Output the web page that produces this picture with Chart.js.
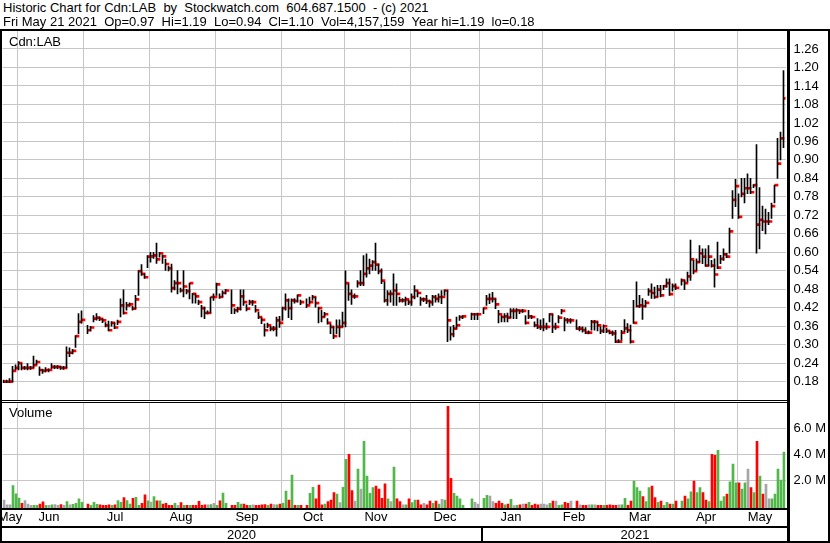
<!DOCTYPE html>
<html><head><meta charset="utf-8">
<script src="https://cdn.jsdelivr.net/npm/chart.js@4.4.1/dist/chart.umd.min.js"></script>
<style>
html,body{margin:0;padding:0;background:#fff;}
#wrap{position:relative;width:830px;height:543px;overflow:hidden;font-family:Arial,"Liberation Sans",sans-serif;background:#fff;}
.t{position:absolute;font-size:13px;color:#000;white-space:pre;line-height:14px;}
.ln{position:absolute;background:#000;}
canvas{position:absolute;left:0;}
</style></head><body>
<div id="wrap">
<canvas id="pc" width="830" height="369" style="top:31px"></canvas>
<canvas id="vc" width="830" height="140" style="top:403px"></canvas>
<div class="t" style="left:3px;top:1px">Historic Chart for Cdn:LAB  by  Stockwatch.com  604.687.1500  - (c) 2021</div>
<div class="t" style="left:3px;top:15px">Fri May 21 2021  Op=0.97  Hi=1.19  Lo=0.94  Cl=1.10  Vol=4,157,159  Year hi=1.19  lo=0.18</div>
<div class="t" style="left:9px;top:35px">Cdn:LAB</div>
<div class="t" style="left:9px;top:406px">Volume</div>
<div class="t" style="left:2px;width:479px;text-align:center;top:528px">2020</div>
<div class="t" style="left:483px;width:304px;text-align:center;top:528px">2021</div>
<div class="ln" style="left:0;top:29px;width:830px;height:2px"></div>
<div class="ln" style="left:0;top:29px;width:2px;height:514px"></div>
<div class="ln" style="left:828px;top:29px;width:2px;height:514px"></div>
<div class="ln" style="left:787px;top:29px;width:3px;height:514px"></div>
<div class="ln" style="left:0;top:400px;width:787px;height:1px"></div>
<div class="ln" style="left:0;top:402px;width:787px;height:1px"></div>
<div class="ln" style="left:0;top:508px;width:790px;height:2px"></div>
<div class="ln" style="left:0;top:526px;width:790px;height:2px"></div>
<div class="ln" style="left:0;top:541px;width:830px;height:2px"></div>
<div class="ln" style="left:481px;top:526px;width:2px;height:17px"></div>
</div>
<script>
// ---- categories: months and trading-day slots per month (May 2020 .. May 2021)
const monthNames = ['May','Jun','Jul','Aug','Sep','Oct','Nov','Dec','Jan','Feb','Mar','Apr','May'];
const monthSlots = [5,22,22,22,22,21,22,23,21,21,23,21,16];

// ---- daily closes (null = market holiday)
const closes = [
 .18,.18,.18,.215,.225,
 .24,.225,.225,.225,.225,.234,.244,.218,.215,.218,.218,.228,.228,.228,.225,.225,.274,.274,.28,.328,.374,.381,
 null,.347,.356,.385,.388,.384,.379,.363,.347,.371,.356,.374,.428,.403,.428,.431,.417,.447,.539,.53,.519,.586,
 .587,.59,.577,.597,.587,.562,.548,.484,.5,.5,.476,.489,.474,.5,.465,.457,.438,.419,.403,.403,.455,.455,
 .496,.455,.468,.476,null,.428,.412,.417,.457,.438,.417,.438,.438,.412,.39,.381,.347,.363,.352,.352,.379,.371,
 .419,.444,.419,.444,.442,.46,.438,null,.428,.438,.455,.435,.419,.39,.399,.371,.358,.328,.358,.358,.371,
 .5,.465,.457,.457,.5,.5,.53,.548,.557,.568,.56,.539,.508,.444,.465,.465,.476,.465,.444,.444,.447,.438,
 .455,.476,.468,.447,.447,.442,.438,.455,.449,.455,.455,.476,.379,.334,.352,.363,.39,.392,null,null,.399,.399,.399,
 null,.419,.449,.449,.449,.431,.399,.39,.392,.388,.41,.41,.412,.41,.41,.371,.392,.39,.363,.358,.358,
 .358,.358,.399,.358,.358,.388,.41,.381,.379,.379,null,.352,.352,.347,.339,.339,.374,.374,.363,.345,.36,
 .345,.339,.337,.31,.31,.339,.353,.347,.31,.371,.425,.428,.425,.436,.474,.468,.455,.479,.46,.49,.5,.464,.49,
 .485,null,.509,.5,.522,.577,.539,.568,.597,.586,.557,.586,.557,.528,.55,.579,.593,.586,.668,.77,.815,
 .715,.79,.808,.808,.795,.818,.69,.705,.7,.7,.7,.75,.818,.888,.97,1.1
];
// ---- daily highs
const highs = [
 .185,.185,.19,.23,.235,
 .245,.239,.23,.239,.23,.263,.25,.228,.22,.226,.222,.239,.232,.232,.23,.23,.293,.29,.285,.33,.401,.41,
 null,.363,.36,.395,.401,.39,.384,.372,.377,.375,.371,.38,.449,.478,.438,.436,.425,.46,.541,.56,.53,.589,
 .6,.6,.63,.6,.592,.578,.555,.562,.508,.541,.484,.541,.48,.5,.467,.465,.445,.428,.422,.41,.455,.465,
 .5,.465,.475,.48,null,.478,.417,.422,.478,.478,.43,.445,.444,.428,.406,.388,.368,.37,.36,.36,.39,.392,
 .422,.465,.449,.449,.45,.462,.445,null,.449,.455,.46,.455,.422,.412,.405,.385,.367,.358,.381,.381,.406,
 .54,.498,.478,.465,.508,.541,.589,.595,.578,.573,.63,.562,.546,.503,.476,.476,.53,.498,.455,.45,.455,.445,
 .465,.492,.475,.455,.452,.46,.445,.46,.46,.465,.476,.478,.476,.358,.363,.39,.395,.395,null,null,.403,.401,.403,
 null,.42,.46,.465,.47,.449,.412,.395,.401,.403,.417,.417,.417,.412,.415,.395,.412,.395,.374,.385,.381,
 .385,.37,.401,.399,.37,.395,.415,.388,.385,.385,null,.381,.36,.358,.356,.345,.379,.379,.374,.358,.365,
 .353,.345,.345,.347,.317,.347,.382,.369,.364,.444,.504,.46,.45,.444,.482,.498,.487,.493,.493,.493,.514,.514,.498,
 .498,null,.514,.509,.536,.64,.574,.579,.622,.611,.611,.622,.574,.579,.633,.59,.611,.597,.679,.8,.837,
 .79,.84,.84,.855,.84,.82,.95,.81,.75,.74,.73,.76,.818,.97,.99,1.19
];
// ---- daily lows
const lows = [
 .177,.177,.178,.18,.218,
 .218,.218,.22,.218,.22,.225,.235,.2,.207,.212,.212,.222,.222,.222,.22,.22,.225,.261,.27,.291,.336,.37,
 null,.336,.345,.374,.38,.378,.372,.358,.345,.36,.352,.365,.39,.399,.412,.425,.412,.417,.46,.525,.515,.55,
 .568,.58,.564,.584,.564,.541,.54,.471,.478,.465,.471,.455,.465,.449,.435,.435,.43,.39,.385,.4,.403,.444,
 .46,.45,.455,.465,null,.401,.401,.406,.412,.428,.41,.43,.428,.406,.385,.368,.328,.355,.345,.345,.328,.356,
 .379,.412,.388,.381,.435,.438,.43,null,.42,.433,.445,.422,.371,.374,.39,.367,.336,.32,.336,.325,.358,
 .358,.444,.431,.45,.487,.492,.492,.519,.53,.541,.541,.53,.498,.438,.428,.438,.428,.428,.438,.438,.428,.43,
 .428,.449,.455,.428,.44,.433,.422,.428,.438,.438,.433,.46,.31,.315,.325,.352,.379,.385,null,null,.381,.381,.381,
 null,.401,.428,.433,.438,.417,.371,.374,.374,.374,.388,.385,.385,.401,.405,.367,.385,.385,.358,.352,.349,
 .345,.35,.374,.339,.35,.371,.4,.345,.37,.37,null,.35,.345,.341,.336,.335,.347,.347,.345,.336,.339,
 .339,.335,.33,.307,.307,.315,.342,.339,.305,.369,.423,.421,.382,.423,.46,.45,.45,.455,.455,.479,.487,.46,.474,
 .479,null,.493,.479,.504,.509,.53,.541,.568,.563,.554,.557,.552,.487,.547,.563,.574,.583,.597,.71,.748,
 .71,.78,.76,.79,.79,.81,.597,.611,.67,.66,.69,.71,.76,.84,.9,.94
];
// ---- daily volume, millions of shares
const volumes = [
 .46,.08,.08,1.57,.93,
 .6,.2,.41,.15,.05,.05,.05,.15,.31,.05,.05,.08,.1,.05,.1,.05,.33,.08,.13,.2,.54,.28,
 null,.15,.05,.28,.13,.08,.05,.05,.08,.05,.08,.41,.28,.64,.41,.15,.59,.67,.05,.2,.85,.39,
 .3,.72,.39,.39,.15,.2,.05,.05,.2,.05,.26,.05,.05,.05,.05,.05,.36,.05,.08,.08,.1,.2,
 .05,.39,1.0,.2,null,.05,.05,.28,.15,.15,.05,.05,.08,.05,.05,.08,.1,.05,.15,.1,.08,.15,
 .2,1.15,.46,2.38,.05,.05,.05,null,.05,.97,1.44,.54,1.62,.08,.15,.33,.46,1.03,.92,.26,1.44,
 3.6,4.0,1.18,.38,2.85,1.3,5.0,2.3,.97,1.41,1.54,1.3,.59,1.7,.54,.33,3.0,.54,.33,.08,.08,.54,
 .26,.46,.46,.08,.2,.08,.38,.2,.38,.15,.51,.46,7.7,2.13,.97,.77,.54,.05,null,null,.54,.28,.15,
 null,.59,.82,.77,.33,.2,.38,.2,.08,.15,.51,.02,.05,.08,.15,.15,.28,.05,.15,.08,.15,
 .15,.08,.2,.38,.38,.05,.08,.28,.2,.38,null,.38,.08,.05,.05,.08,.08,.08,.05,.05,.05,
 .05,.08,.05,.05,.08,.08,.59,.05,.38,1.92,1.41,1.15,.72,.33,1.41,1.54,.64,.28,.38,.05,.28,.15,.15,
 .38,null,.38,.77,.54,1.1,1.92,1.03,1.41,1.03,.46,.33,4.0,3.92,4.3,.38,.72,.92,1.87,3.23,1.79,
 1.79,1.3,1.79,2.85,1.41,1.03,5.0,2.3,.92,1.67,.54,.54,.92,2.85,2.0,4.16
];
// ---- axis tick values
const priceTicks = [0.18,0.24,0.30,0.36,0.42,0.48,0.54,0.60,0.66,0.72,0.78,0.84,0.90,0.96,1.02,1.08,1.14,1.20,1.26];
const volumeTicks = [2,4,6];

const N = monthSlots.reduce((a,b)=>a+b,0);
[closes,highs,lows,volumes].forEach((a,i)=>{ if(a.length!==N) throw new Error('array '+i+' length '+a.length+' != '+N); });

const GRID = '#c6c6c6', GREEN = '#4fb848', RED = '#ff0000', GREYV = '#a6a6a6';
const FONT = 'Arial, "Liberation Sans", sans-serif';
Chart.defaults.font.family = FONT;
Chart.defaults.font.size = 13;
Chart.defaults.color = '#000';

const labels = [], monthStart = new Set(), monthLabelAt = {};
let k = 0;
monthNames.forEach((m,j)=>{
  if (k>0) monthStart.add(k);
  monthLabelAt[k + Math.floor((monthSlots[j]-1)/2)] = m;
  for (let d=0; d<monthSlots[j]; d++) labels.push(m + '#' + j + '-' + d);
  k += monthSlots[j];
});

const hlData = highs.map((h,i)=> h==null ? null : [lows[i], h]);
const closeData = closes.map(c=> c==null ? null : [c-0.0033, c+0.0033]);
let prev = null;
const volColors = closes.map(c=>{
  if (c==null) return GREYV;
  let col = GREYV;
  if (prev!=null) col = c > prev+0.0015 ? GREEN : (c < prev-0.0015 ? RED : GREYV);
  prev = c; return col;
});

const xCommon = (showLabels)=>({
  type:'category', offset:true,
  grid:{ offset:true, drawTicks:false, lineWidth:1, color: ctx => monthStart.has(ctx.index) ? GRID : 'rgba(0,0,0,0)' },
  border:{ display:false },
  ticks:{ display: showLabels, autoSkip:false, maxRotation:0, minRotation:0, padding:2,
          color:'#000', font:{size:13, family:FONT},
          callback:(v,i)=> monthLabelAt[i] || '' },
  afterFit: s => { s.paddingLeft=0; s.paddingRight=0; s.height = showLabels ? 35 : 0; }
});

new Chart(document.getElementById('pc'), {
  type:'bar',
  data:{ labels, datasets:[
    { data: hlData, backgroundColor:'#000', barThickness:1, borderWidth:0, borderSkipped:false },
    { data: closeData, backgroundColor:RED, barThickness:3, borderWidth:0, borderSkipped:false }
  ]},
  options:{
    responsive:false, animation:false, events:[],
    layout:{ padding:{ left:2.5, right:0, top:0, bottom:0 } },
    plugins:{ legend:{display:false}, tooltip:{enabled:false} },
    scales:{
      x: xCommon(false),
      y: { position:'right', min:0.1206, max:1.3184,
           afterBuildTicks: s => { s.ticks = priceTicks.map(v=>({value:v})); },
           ticks:{ padding:8, color:'#000', font:{size:13, family:FONT}, callback: v => Number(v).toFixed(2) },
           grid:{ color:GRID, drawTicks:false, lineWidth:1 }, border:{display:false},
           afterFit: s => { s.width = 44.5; s.paddingTop = 0; s.paddingBottom = 0; } }
    }
  }
});

new Chart(document.getElementById('vc'), {
  type:'bar',
  data:{ labels, datasets:[
    { data: volumes, backgroundColor: volColors, barThickness:2, borderWidth:0, base:-0.16 }
  ]},
  options:{
    responsive:false, animation:false, events:[],
    layout:{ padding:{ left:2.5, right:0, top:0, bottom:0 } },
    plugins:{ legend:{display:false}, tooltip:{enabled:false} },
    scales:{
      x: xCommon(true),
      y: { position:'right', min:-0.16, max:7.96,
           afterBuildTicks: s => { s.ticks = volumeTicks.map(v=>({value:v})); },
           ticks:{ padding:8, color:'#000', font:{size:13, family:FONT}, callback: v => Number(v).toFixed(1) + ' M' },
           grid:{ color:GRID, drawTicks:false, lineWidth:1 }, border:{display:false},
           afterFit: s => { s.width = 44.5; s.paddingTop = 0; s.paddingBottom = 0; } }
    }
  }
});
</script>
</body></html>
